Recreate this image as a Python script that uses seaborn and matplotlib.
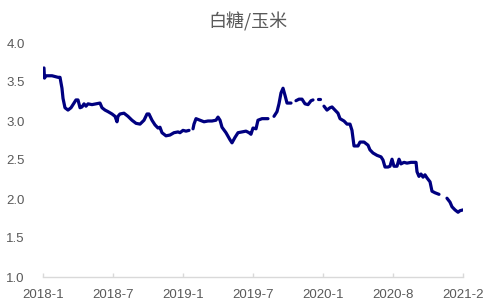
import numpy as np
import pandas as pd
import matplotlib
matplotlib.use("Agg")
import matplotlib.pyplot as plt
import seaborn as sns

nan = np.nan

# x position in series index (tick every 10 units), values of the ratio
x_pos = [
    0.14, 0.21, 0.43, 1.29, 2.14, 2.43, 2.71, 2.86, 3.14, 3.57, 4.0, 4.43, 4.71, 5.0, 5.29,
    5.57, 5.86, 6.14, 6.43, 7.0, 7.57, 8.14, 8.43, 8.86, 9.29, 9.86, 10.29, 10.57, 10.71,
    11.0, 11.57, 12.14, 12.71, 13.29, 13.86, 14.43, 14.86, 15.14, 15.57, 16.0, 16.43, 16.71,
    17.0, 17.57, 18.14, 18.71, 19.29, 19.57, 20.0, 20.43, 20.86,
    21.1,
    21.43, 21.57, 21.86, 22.43, 23.0, 23.57, 24.14, 24.71, 25.0, 25.29, 25.57, 26.14, 26.71,
    27.0, 27.43, 27.86, 28.43, 29.0, 29.43, 29.71, 30.0, 30.43, 30.71, 31.29, 32.14,
    32.5,
    33.0, 33.43, 33.71, 34.0, 34.29, 34.57, 34.86, 35.43,
    35.8,
    36.14, 36.57, 37.0, 37.43, 37.86, 38.29, 38.57,
    38.9,
    39.29, 39.57,
    39.9,
    40.14, 40.57, 41.0, 41.29, 41.71, 42.14, 42.43, 43.0, 43.43, 43.86, 44.14, 44.43, 45.0,
    45.29, 45.86, 46.43, 46.71, 47.14, 47.71, 48.29, 48.57, 48.86, 49.29, 49.57, 49.86,
    50.14, 50.57, 50.86, 51.14, 51.57, 52.0, 52.57, 53.29, 53.43, 53.71, 54.0, 54.29,
    54.57, 54.86, 55.29, 55.57, 56.0, 56.57,
    57.1,
    57.71, 58.14, 58.43, 58.86, 59.29, 59.57, 60.0,
]
ratio = [
    3.68, 3.55, 3.58, 3.58, 3.56, 3.56, 3.42, 3.29, 3.17, 3.14, 3.17, 3.23, 3.27, 3.27, 3.17,
    3.18, 3.22, 3.19, 3.22, 3.21, 3.22, 3.23, 3.17, 3.14, 3.12, 3.09, 3.06, 2.99, 3.06,
    3.09, 3.10, 3.06, 3.01, 2.97, 2.96, 3.01, 3.09, 3.09, 3.01, 2.95, 2.91, 2.92,
    2.85, 2.81, 2.82, 2.85, 2.86, 2.85, 2.88, 2.87, 2.88,
    nan,
    2.90, 2.96, 3.03, 3.01, 2.99, 3.00, 3.00, 3.01, 3.05, 3.01, 2.92, 2.85, 2.76,
    2.72, 2.79, 2.85, 2.86, 2.87, 2.85, 2.83, 2.91, 2.90, 3.01, 3.03, 3.03,
    nan,
    3.06, 3.12, 3.22, 3.36, 3.42, 3.33, 3.23, 3.23,
    nan,
    3.26, 3.28, 3.28, 3.22, 3.21, 3.26, 3.27,
    nan,
    3.28, 3.28,
    nan,
    3.19, 3.14, 3.17, 3.18, 3.14, 3.10, 3.03, 3.00, 2.96, 2.96, 2.88, 2.68, 2.68,
    2.73, 2.73, 2.69, 2.63, 2.59, 2.56, 2.54, 2.50, 2.41, 2.41, 2.42, 2.51,
    2.42, 2.42, 2.51, 2.45, 2.47, 2.46, 2.47, 2.47, 2.35, 2.29, 2.32, 2.28,
    2.31, 2.27, 2.22, 2.10, 2.08, 2.06,
    nan,
    2.01, 1.96, 1.90, 1.86, 1.83, 1.85, 1.86,
]
tick_labels = ["2018-1", "2018-7", "2019-1", "2019-7", "2020-1", "2020-8", "2021-2"]
tick_pos = [0, 10, 20, 30, 40, 50, 60]
y_ticks = [1.0, 1.5, 2.0, 2.5, 3.0, 3.5, 4.0]
title = "白糖/玉米"

df = pd.DataFrame({"x": x_pos, "y": ratio})
df["seg"] = df["y"].isna().cumsum()
df = df.dropna().reset_index(drop=True)

sns.set_theme(style="white")
plt.rcParams["font.family"] = ["Liberation Sans", "DejaVu Sans"]

fig = plt.figure(figsize=(4.98, 3.08), dpi=100)
ax = fig.add_axes([43 / 498, 1 - 277 / 308, 420 / 498, 234 / 308])

sns.lineplot(data=df, x="x", y="y", units="seg", estimator=None, color="#000080",
             linewidth=2.3, ax=ax, legend=False, solid_capstyle="round", solid_joinstyle="round")

ax.set_xlim(0, 60)
ax.set_ylim(1.0, 4.0)
ax.set_xticks(tick_pos)
ax.set_xticklabels(tick_labels)
ax.set_yticks(y_ticks)
ax.set_yticklabels([f"{v:.1f}" for v in y_ticks])
ax.set_xlabel("")
ax.set_ylabel("")
ax.grid(False)
for s in ["top", "right", "left"]:
    ax.spines[s].set_visible(False)
ax.spines["bottom"].set_color("#d9d9d9")
ax.spines["bottom"].set_linewidth(1.0)
ax.tick_params(axis="x", direction="in", length=3, width=1, color="#d9d9d9",
               labelsize=9.5, labelcolor="#595959", pad=9, bottom=True)
ax.tick_params(axis="y", length=0, labelsize=9.5, labelcolor="#595959", pad=13, left=False)

fig.text(248 / 498, 1 - 22 / 308, title, ha="center", va="center", fontsize=13,
         color="#595959", family=["Noto Sans CJK SC", "DejaVu Sans"])

fig.savefig("out.png", dpi=100)
